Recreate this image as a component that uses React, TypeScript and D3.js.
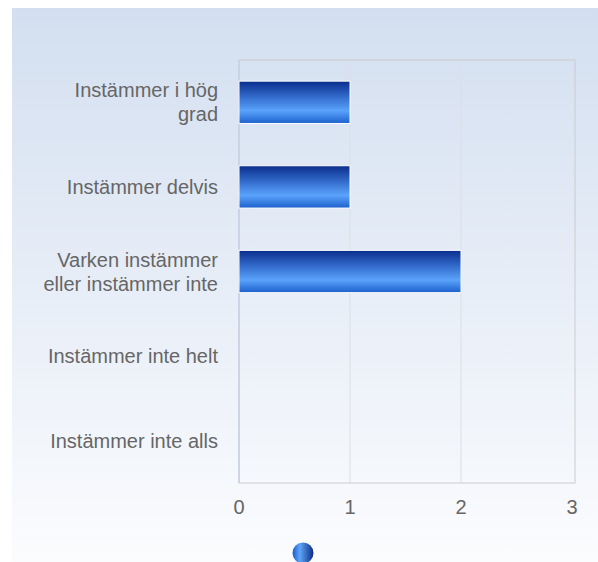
import * as d3 from "d3";

const categories = [
  "Instämmer i hög grad",
  "Instämmer delvis",
  "Varken instämmer eller instämmer inte",
  "Instämmer inte helt",
  "Instämmer inte alls",
];
const labelLines = [
  ["Instämmer i hög", "grad"],
  ["Instämmer delvis"],
  ["Varken instämmer", "eller instämmer inte"],
  ["Instämmer inte helt"],
  ["Instämmer inte alls"],
];
const values = [1, 1, 2, 0, 0];
const xTicks = [0, 1, 2, 3];

const W = 598;
const H = 562;
const plot = { left: 239, top: 60, right: 575, bottom: 483 };

export default function App() {
  const x = d3.scaleLinear().domain([0, 3]).range([plot.left, plot.left + 333]);
  const y = d3
    .scaleBand()
    .domain(categories)
    .range([plot.top, plot.bottom])
    .paddingInner(0.5)
    .paddingOuter(0.25);

  return (
    <svg
      width={W}
      height={H}
      style={{ position: "absolute", left: 0, top: 0, fontFamily: "'Liberation Sans', Arial, sans-serif" }}
    >
      <defs>
        <linearGradient id="bg" x1="0" y1="0" x2="0" y2="1">
          <stop offset="0" stopColor="#d3dff0" />
          <stop offset="1" stopColor="#fbfcfe" />
        </linearGradient>
        <linearGradient id="bar" x1="0" y1="0" x2="0" y2="1">
          <stop offset="0" stopColor="#0a2d8c" />
          <stop offset="0.4" stopColor="#3670d0" />
          <stop offset="0.7" stopColor="#5aa3fb" />
          <stop offset="1" stopColor="#1c60cc" />
        </linearGradient>
        <linearGradient id="dot" x1="0" y1="0" x2="1" y2="0">
          <stop offset="0" stopColor="#1d5ccc" />
          <stop offset="0.35" stopColor="#5ea5f7" />
          <stop offset="1" stopColor="#0b2d86" />
        </linearGradient>
      </defs>
      <rect x={12} y={8} width={W - 12} height={H - 8} fill="url(#bg)" />

      {xTicks.slice(1, -1).map((t) => (
        <line key={t} x1={x(t)} x2={x(t)} y1={plot.top} y2={plot.bottom} stroke="#dcdfe4" strokeWidth={1} />
      ))}
      <rect
        x={plot.left}
        y={plot.top}
        width={plot.right - plot.left}
        height={plot.bottom - plot.top}
        fill="none"
        stroke="#cccccc"
        strokeWidth={1}
      />
      <line x1={plot.left} x2={plot.left} y1={plot.top} y2={plot.bottom} stroke="#c6d2e8" strokeWidth={1.5} />

      {categories.map((c, i) =>
        values[i] > 0 ? (
          <rect
            key={c}
            x={x(0)}
            y={y(c)!}
            width={x(values[i]) - x(0)}
            height={y.bandwidth()}
            fill="url(#bar)"
            stroke="#ffffff"
            strokeWidth={1}
          />
        ) : null
      )}

      {categories.map((c, i) => {
        const lines = labelLines[i];
        const cy = y(c)! + y.bandwidth() / 2;
        const lh = 24;
        const start = cy - ((lines.length - 1) * lh) / 2;
        return (
          <text key={c} x={218} textAnchor="end" fontSize={20} fill="#666666">
            {lines.map((l, j) => (
              <tspan key={j} x={218} y={start + j * lh} dy="0.35em">
                {l}
              </tspan>
            ))}
          </text>
        );
      })}

      {xTicks.map((t) => (
        <text key={t} x={x(t)} y={507} dy="0.35em" textAnchor="middle" fontSize={20} fill="#666666">
          {t}
        </text>
      ))}

      <circle cx={303} cy={553} r={10.5} fill="url(#dot)" />
    </svg>
  );
}
